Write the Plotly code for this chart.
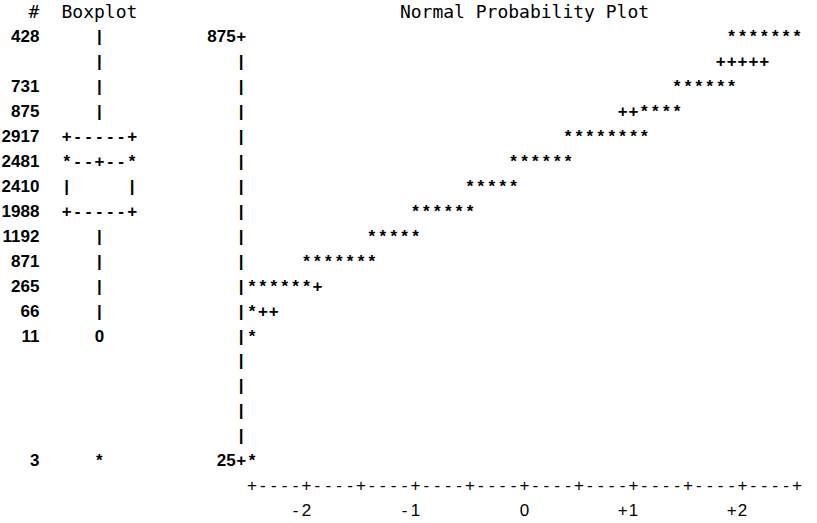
import plotly.graph_objects as go

# ---------------- data (as printed in the line-printer output) ----------------
counts = ["428", "", "731", "875", "2917", "2481", "2410", "1988", "1192",
          "871", "265", "66", "11", "", "", "", "", "3"]
boxplot = ["|", "|", "|", "|", "+-----+", "*--+--*", "|     |", "+-----+",
           "|", "|", "|", "|", "0", "", "", "", "", "*"]
npp_rows = [
    " " * 44 + "*******",
    " " * 43 + "+++++",
    " " * 39 + "******",
    " " * 34 + "++****",
    " " * 29 + "********",
    " " * 24 + "******",
    " " * 20 + "*****",
    " " * 15 + "******",
    " " * 11 + "*****",
    " " * 5 + "*******",
    "******+",
    "*++",
    "*",
    "", "", "", "",
    "*",
]
y_tick_labels = ["875", "25"]          # top and bottom of the vertical axis
x_tick_values = [-2, -1, 0, 1, 2]
x_tick_labels = ["-2", "-1", "0", "+1", "+2"]
x_axis_min, x_axis_max, x_minor_step = -2.5, 2.5, 0.5
count_header = "#"
box_header = "Boxplot"
plot_title = "Normal Probability Plot"

# ---------------- layout constants ----------------
W, H = 817, 523
CW = 10.9      # px per character column
RH = 24.94     # px per text row
X0 = 252.0     # px of plot column 0
Y0 = 38.0      # px of row 0
COLS_PER_UNIT = 10
COUNT_COL = -20
BOX_COL = -14
VAXIS_COL = -1

SANS = "Liberation Sans, Arial, sans-serif"
MONO = "DejaVu Sans Mono, monospace"
FS = 17

n_rows = len(npp_rows)
center_val = (x_axis_min + x_axis_max) / 2
plot_width_cols = int(round((x_axis_max - x_axis_min) * COLS_PER_UNIT))


def val_to_col(v):
    return (v - x_axis_min) * COLS_PER_UNIT


bold = dict(x=[], y=[], t=[])
thin = dict(x=[], y=[], t=[])


def put(col, row, ch, grp=bold):
    if ch != " ":
        grp["x"].append(col)
        grp["y"].append(row)
        grp["t"].append(ch)


# normal probability plot body
for r, s in enumerate(npp_rows):
    for c, ch in enumerate(s):
        put(c, r, ch)

# boxplot column
for r, s in enumerate(boxplot):
    start = BOX_COL - (len(s) - 1) / 2
    for i, ch in enumerate(s):
        put(start + i, r, ch)

# vertical axis
for r in range(n_rows):
    put(VAXIS_COL, r, "+" if r in (0, n_rows - 1) else "|")

# horizontal axis line
axis_row = n_rows
step_cols = int(round(x_minor_step * COLS_PER_UNIT))
for c in range(plot_width_cols + 1):
    put(c, axis_row, "+" if c % step_cols == 0 else "-", thin)

# x tick labels (right-aligned on tick column)
label_row = n_rows + 1
for v, lab in zip(x_tick_values, x_tick_labels):
    end = val_to_col(v)
    for i, ch in enumerate(lab):
        put(end - (len(lab) - 1 - i), label_row, ch, thin)

fig = go.Figure()
fig.add_trace(go.Scatter(
    x=bold["x"], y=bold["y"], text=bold["t"], mode="text",
    textposition="middle center",
    textfont=dict(family=SANS, size=FS, color="black", weight="bold"),
    hoverinfo="skip", showlegend=False))
fig.add_trace(go.Scatter(
    x=thin["x"], y=thin["y"], text=thin["t"], mode="text",
    textposition="middle center",
    textfont=dict(family=SANS, size=FS, color="black"),
    hoverinfo="skip", showlegend=False))

# counts (right aligned)
cnt_rows = [r for r, c in enumerate(counts) if c]
fig.add_trace(go.Scatter(
    x=[COUNT_COL + 0.5] * len(cnt_rows), y=cnt_rows,
    text=[counts[r] for r in cnt_rows], mode="text", textposition="middle left",
    textfont=dict(family=SANS, size=FS, color="black", weight="bold"),
    hoverinfo="skip", showlegend=False))

# y-axis tick labels (right aligned, before the '+')
fig.add_trace(go.Scatter(
    x=[VAXIS_COL - 0.5] * 2, y=[0, n_rows - 1], text=y_tick_labels,
    mode="text", textposition="middle left",
    textfont=dict(family=SANS, size=FS, color="black", weight="bold"),
    hoverinfo="skip", showlegend=False))

# headers
fig.add_trace(go.Scatter(
    x=[COUNT_COL, BOX_COL, val_to_col(center_val)], y=[-1, -1, -1],
    text=[count_header, box_header, plot_title], mode="text",
    textposition="middle center",
    textfont=dict(family=MONO, size=18, color="black"),
    hoverinfo="skip", showlegend=False))

x_lo = -X0 / CW
x_hi = (W - X0) / CW
y_top = -Y0 / RH
y_bot = (H - Y0) / RH

fig.update_layout(
    width=W, height=H, autosize=False,
    margin=dict(l=0, r=0, t=0, b=0),
    paper_bgcolor="white", plot_bgcolor="white",
    xaxis=dict(range=[x_lo, x_hi], visible=False, fixedrange=True),
    yaxis=dict(range=[y_bot, y_top], visible=False, fixedrange=True),
)

fig.write_html(
    "out.html",
    config={"displayModeBar": False},
    post_script="document.body.style.margin='0';document.body.style.padding='0';"
                "document.body.style.overflow='hidden';",
)
